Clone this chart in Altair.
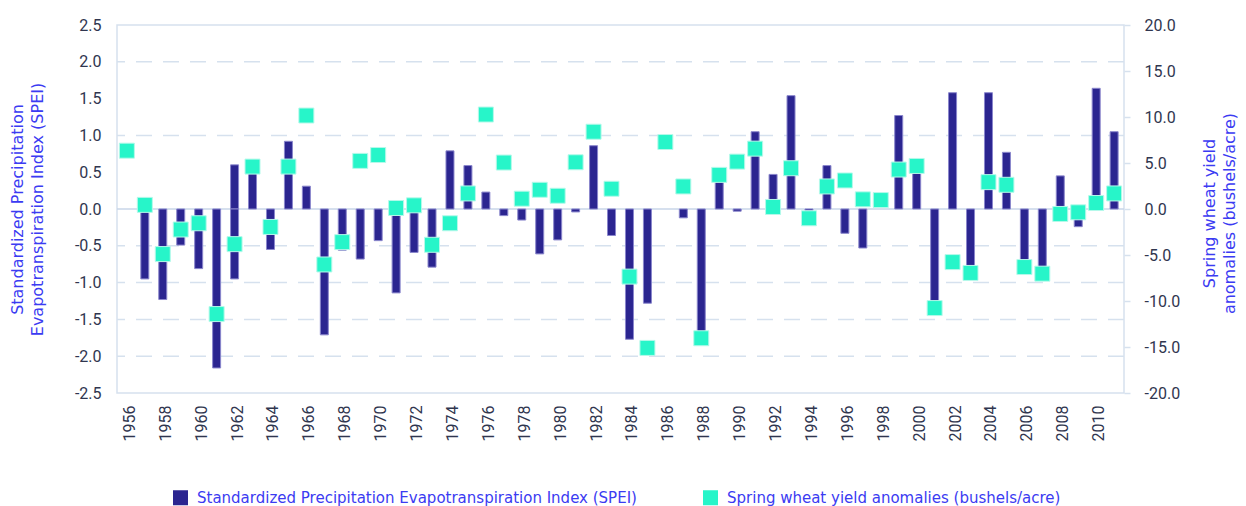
import altair as alt
import pandas as pd

years = list(range(1956, 2012))
spei = [None, -0.95, -1.23, -0.49, -0.81, -2.16, 0.60, 0.55, -0.55, 0.92,
        0.31, -1.71, -0.56, -0.68, -0.43, -1.14, -0.59, -0.79, 0.79, 0.59,
        0.23, -0.09, -0.15, -0.61, -0.42, -0.04, 0.86, -0.36, -1.77, -1.28,
        None, -0.12, -1.72, 0.45, -0.03, 1.05, 0.47, 1.54, -0.02, 0.59,
        -0.33, -0.53, None, 1.27, 0.55, -1.33, 1.58, -0.82, 1.58, 0.77,
        -0.75, -0.80, 0.45, -0.24, 1.64, 1.05]
# second (overlapping) bar drawn in the source for 1962
extra_years = [1962]
extra_spei = [-0.95]

wheat = [6.34, 0.45, -4.90, -2.23, -1.55, -11.42, -3.82, 4.61, -1.95, 4.61,
         10.16, -6.03, -3.60, 5.23, 5.87, 0.11, 0.40, -3.89, -1.55, 1.69,
         10.27, 5.05, 1.12, 2.09, 1.44, 5.08, 8.40, 2.20, -7.35, -15.10,
         7.28, 2.45, -14.05, 3.71, 5.15, 6.56, 0.22, 4.43, -1.01, 2.45,
         3.10, 1.05, 0.97, 4.29, 4.68, -10.77, -5.77, -6.95, 2.92, 2.63,
         -6.31, -7.03, -0.54, -0.36, 0.65, 1.69]

left_ticks = [-2.5, -2.0, -1.5, -1.0, -0.5, 0.0, 0.5, 1.0, 1.5, 2.0, 2.5]
right_ticks = [-20, -15, -10, -5, 0, 5, 10, 15, 20]
grid_levels = [2.0, 1.0, -0.5, -1.0, -1.5, -2.0]
zero_level = [0.0]
x_label_years = [y for y in years if y % 2 == 0]

SPEI_LABEL = "Standardized Precipitation Evapotranspiration Index (SPEI)"
WHEAT_LABEL = "Spring wheat yield anomalies (bushels/acre)"

NAVY = "#2b2590"
AQUA = "#27f5c9"
TITLE_BLUE = "#3b3bf2"
LABEL_COL = "#30364f"
LINE_COL = "#d6e1ee"
TITLE_FONT = "DejaVu Sans"

bar_df = pd.DataFrame({
    "year": years + extra_years,
    "spei": spei + extra_spei,
    "series": [SPEI_LABEL] * (len(years) + len(extra_years)),
})
pt_df = pd.DataFrame({"year": years, "wheat": wheat, "series": [WHEAT_LABEL] * len(years)})
grid_df = pd.DataFrame({"level": grid_levels})
zero_df = pd.DataFrame({"level": zero_level})

minus_fix = "replace(format(datum.value, '.1f'), '\u2212', '-')"

left_scale = alt.Scale(domain=[-2.5, 2.5], nice=False, zero=False)
right_scale = alt.Scale(domain=[-20, 20], nice=False, zero=False)

left_axis = alt.Axis(
    values=left_ticks, labelExpr=minus_fix, labelFont="Roboto", labelFontSize=16,
    labelColor=LABEL_COL, ticks=False, domain=False, grid=False, labelPadding=16,
    title=["Standardized Precipitation", "Evapotranspiration Index (SPEI)"],
    titleFont=TITLE_FONT, titleFontSize=16, titleFontWeight="normal", titleColor=TITLE_BLUE,
    titleX=-100, titleY=184, titleAngle=270, titleAlign="center", titleBaseline="middle",
    titleLineHeight=20,
)
right_axis = alt.Axis(
    values=right_ticks, labelExpr=minus_fix, labelFont="Roboto", labelFontSize=16,
    labelColor=LABEL_COL, ticks=True, tickSize=6, tickColor=LINE_COL, tickWidth=1.5,
    domain=False, grid=False, labelPadding=14,
    title=["Spring wheat yield", "anomalies (bushels/acre)"],
    titleFont=TITLE_FONT, titleFontSize=16, titleFontWeight="normal", titleColor=TITLE_BLUE,
    titleX=85, titleY=188, titleAngle=270, titleAlign="center", titleBaseline="middle",
    titleLineHeight=20,
)
x_enc = alt.X(
    "year:O",
    scale=alt.Scale(paddingInner=0, paddingOuter=0.05),
    axis=alt.Axis(values=x_label_years, labelAngle=270, labelFont="Roboto", labelFontSize=16,
                  labelColor=LABEL_COL, ticks=False, domain=False, labelPadding=12,
                  labelOffset=3, title=None),
)
color_enc = alt.Color(
    "series:N",
    scale=alt.Scale(domain=[SPEI_LABEL, WHEAT_LABEL], range=[NAVY, AQUA]),
    legend=alt.Legend(orient="none", legendX=56, legendY=465, direction="horizontal",
                      title=None, symbolType="square", symbolSize=225, symbolStrokeWidth=0,
                      labelFont=TITLE_FONT, labelFontSize=15, labelColor=TITLE_BLUE,
                      columnPadding=66, labelOffset=9, labelLimit=700, padding=0),
)

grid = alt.Chart(grid_df).mark_rule(color=LINE_COL, strokeWidth=1.5, strokeDash=[16, 11]).encode(
    y=alt.Y("level:Q", scale=left_scale, axis=left_axis)
)
zero = alt.Chart(zero_df).mark_rule(color="#c8d6e8", strokeWidth=1.5).encode(
    y=alt.Y("level:Q", scale=left_scale, axis=left_axis)
)
bars = alt.Chart(bar_df).mark_bar(size=8, stroke="#8a86cc", strokeWidth=1).encode(
    x=x_enc,
    y=alt.Y("spei:Q", scale=left_scale, axis=left_axis),
    color=color_enc,
)
points = alt.Chart(pt_df).mark_square(size=225, opacity=1, stroke="#b5f9ea", strokeWidth=1).encode(
    x=x_enc,
    y=alt.Y("wheat:Q", scale=right_scale, axis=right_axis),
    color=color_enc,
)

left = alt.layer(grid, zero, bars)
chart = alt.layer(left, points).resolve_scale(y="independent").properties(
    width=1007, height=368,
    padding={"left": 109, "top": 17, "right": 114, "bottom": 113},
    autosize=alt.AutoSizeParams(type="none"),
).configure_view(stroke=LINE_COL, strokeWidth=1.5)

chart.save("out.html", embed_options={"renderer": "svg", "actions": False})
